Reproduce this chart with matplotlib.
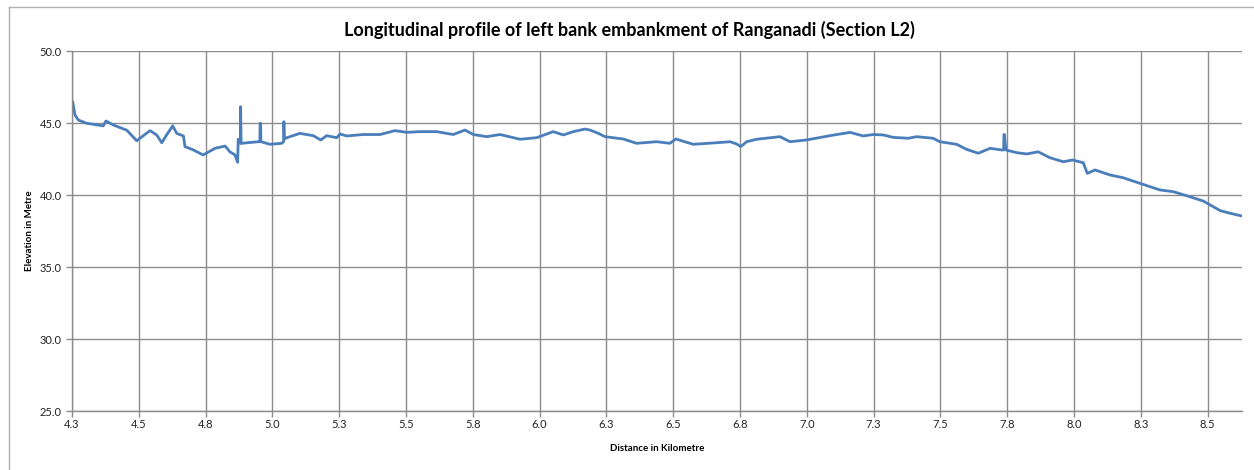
import matplotlib
matplotlib.use('Agg')
import matplotlib.pyplot as plt
from matplotlib.lines import Line2D

# Readings taken along the profile (km, m)
distance_km = [
    4.253, 4.261, 4.274, 4.305, 4.367, 4.377, 4.405, 4.455, 4.492, 4.542,
    4.567, 4.586, 4.604, 4.627, 4.642, 4.667, 4.673, 4.704, 4.741, 4.785,
    4.823, 4.841, 4.860, 4.870, 4.872, 4.880, 4.881, 4.883, 4.885, 4.947,
    4.953, 4.954, 4.956, 4.957, 4.991, 5.035, 5.042, 5.043, 5.045, 5.054,
    5.103, 5.153, 5.181, 5.203, 5.241, 5.253, 5.278, 5.340, 5.403, 5.459,
    5.503, 5.552, 5.615, 5.677, 5.721, 5.752, 5.802, 5.852, 5.927, 5.989,
    6.051, 6.089, 6.126, 6.170, 6.189, 6.220, 6.245, 6.313, 6.363, 6.438,
    6.488, 6.510, 6.575, 6.663, 6.713, 6.738, 6.753, 6.775, 6.812, 6.900,
    6.937, 6.999, 7.087, 7.162, 7.211, 7.249, 7.286, 7.324, 7.380, 7.411,
    7.473, 7.498, 7.561, 7.598, 7.642, 7.686, 7.729, 7.737, 7.738, 7.740,
    7.745, 7.786, 7.823, 7.866, 7.910, 7.960, 7.995, 8.035, 8.050, 8.079,
    8.135, 8.184, 8.247, 8.322, 8.372, 8.434, 8.484, 8.548, 8.585, 8.629,
]
elevation_m = [
    46.44, 45.56, 45.20, 44.98, 44.80, 45.14, 44.86, 44.50, 43.77, 44.47,
    44.17, 43.63, 44.17, 44.80, 44.28, 44.10, 43.36, 43.13, 42.78, 43.24,
    43.40, 43.00, 42.78, 42.27, 43.87, 43.60, 46.13, 43.59, 43.59, 43.70,
    43.70, 44.98, 44.98, 43.70, 43.52, 43.59, 43.70, 45.09, 43.89, 43.98,
    44.28, 44.12, 43.82, 44.12, 43.98, 44.24, 44.10, 44.20, 44.20, 44.47,
    44.35, 44.40, 44.40, 44.20, 44.51, 44.20, 44.05, 44.20, 43.87, 43.98,
    44.40, 44.17, 44.40, 44.58, 44.51, 44.28, 44.05, 43.89, 43.59, 43.70,
    43.59, 43.89, 43.52, 43.63, 43.70, 43.54, 43.36, 43.70, 43.87, 44.05,
    43.70, 43.82, 44.12, 44.35, 44.10, 44.20, 44.17, 44.00, 43.94, 44.05,
    43.94, 43.70, 43.52, 43.17, 42.90, 43.24, 43.13, 43.13, 44.20, 44.20,
    43.13, 42.94, 42.85, 43.00, 42.59, 42.31, 42.43, 42.24, 41.50, 41.74,
    41.39, 41.20, 40.81, 40.35, 40.23, 39.88, 39.58, 38.91, 38.73, 38.54,
]

x_ticks = [4.25, 4.5, 4.75, 5.0, 5.25, 5.5, 5.75, 6.0, 6.25, 6.5, 6.75,
           7.0, 7.25, 7.5, 7.75, 8.0, 8.25, 8.5]
x_tick_labels = ['4.3', '4.5', '4.8', '5.0', '5.3', '5.5', '5.8', '6.0', '6.3',
                 '6.5', '6.8', '7.0', '7.3', '7.5', '7.8', '8.0', '8.3', '8.5']
y_ticks = [25.0, 30.0, 35.0, 40.0, 45.0, 50.0]

LINE_BLUE = '#4a7ebb'
GRID_GRAY = '#8c8c8c'
FONT = ['Lato', 'DejaVu Sans']

fig = plt.figure(figsize=(12.54, 4.70), dpi=100)
ax = fig.add_axes([72 / 1254, 59 / 470, 1170 / 1254, 360 / 470])

ax.plot(distance_km, elevation_m, color=LINE_BLUE, linewidth=2.0,
        solid_joinstyle='round')

ax.set_xlim(4.25, 8.629)
ax.set_ylim(25, 50)
ax.set_xticks(x_ticks)
ax.set_xticklabels(x_tick_labels)
ax.set_yticks(y_ticks)
ax.set_yticklabels([f'{v:.1f}' for v in y_ticks])

ax.grid(True, color=GRID_GRAY, linewidth=1.0)
ax.set_axisbelow(True)
for side in ('top', 'right'):
    ax.spines[side].set_visible(False)
for side in ('left', 'bottom'):
    ax.spines[side].set_color(GRID_GRAY)
    ax.spines[side].set_linewidth(1.0)

ax.tick_params(axis='both', colors=GRID_GRAY, length=4, width=1,
               labelcolor='#222222', labelsize=8)
for lbl in ax.get_xticklabels() + ax.get_yticklabels():
    lbl.set_family(FONT)
ax.tick_params(axis='x', pad=2)

ax.set_xlabel('Distance in Kilometre', fontsize=7, fontweight='bold',
              family=FONT, labelpad=10)
ax.set_ylabel('Elevation in Metre', fontsize=7, fontweight='bold',
              family=FONT)
ax.yaxis.set_label_coords(-38 / 1170, 0.5)

fig.text(629 / 1254, 1 - 30 / 470,
         'Longitudinal profile of left bank embankment of Ranganadi (Section L2)',
         ha='center', va='center', fontsize=13, fontweight='bold', family=FONT)

# chart frame (left and top edges visible in the crop)
fig.add_artist(Line2D([9 / 1254, 9 / 1254], [0, 1 - 7 / 470],
                      transform=fig.transFigure, color='#b0b0b0', linewidth=1))
fig.add_artist(Line2D([9 / 1254, 1], [1 - 7 / 470, 1 - 7 / 470],
                      transform=fig.transFigure, color='#b0b0b0', linewidth=1))

fig.savefig('out.png', dpi=100, facecolor='white')
